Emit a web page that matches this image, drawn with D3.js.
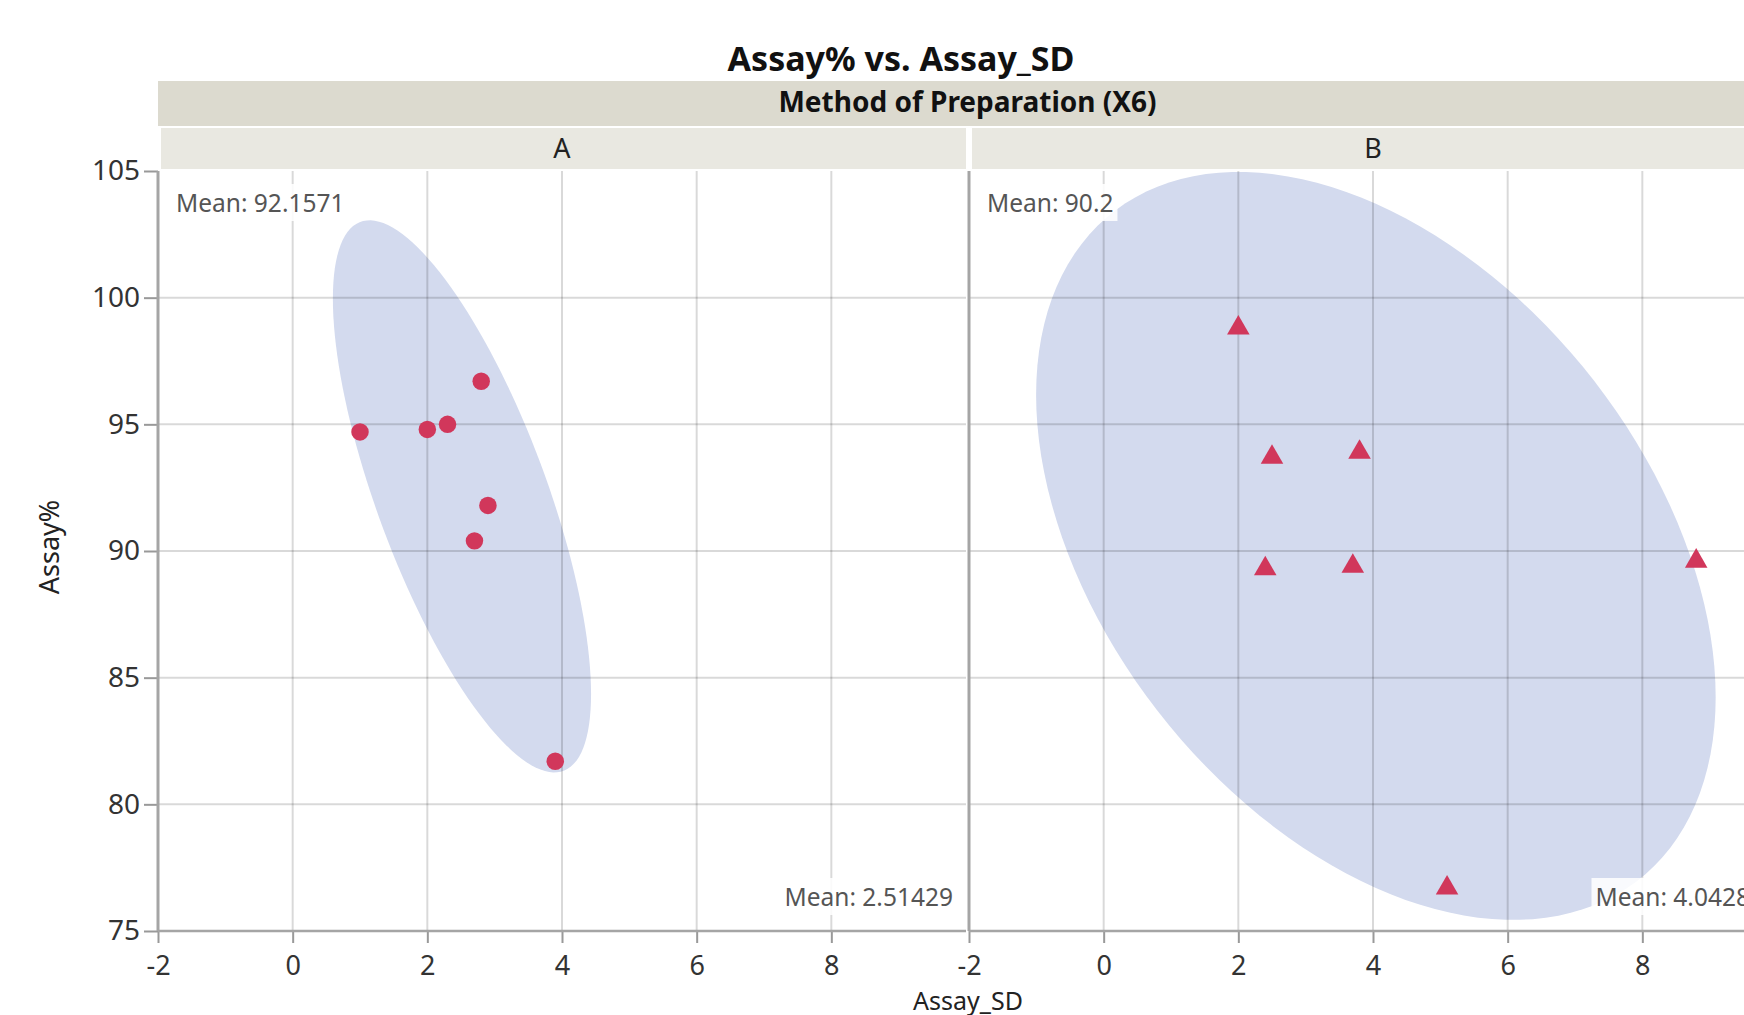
<!DOCTYPE html>
<html>
<head>
<meta charset="utf-8">
<script src="https://cdn.jsdelivr.net/npm/d3@7"></script>
<style>
  body{margin:0;background:#fff;overflow:hidden}
  text{font-family:"Noto Sans","Open Sans",sans-serif}
</style>
</head>
<body>
<div id="chart"></div>
<script>
// data (Assay% vs Assay_SD, grouped by method)
const groups = ["A", "B"]
const sdA = [1.0, 2.0, 2.3, 2.8, 2.9, 2.7, 3.9]
const assayA = [94.7, 94.8, 95.0, 96.7, 91.8, 90.4, 81.7]
const sdB = [2.0, 2.5, 3.8, 2.4, 3.7, 8.8, 5.1]
const assayB = [98.8, 93.7, 93.9, 89.3, 89.4, 89.6, 76.7]
const xTicks = [-2, 0, 2, 4, 6, 8]
const yTicks = [75, 80, 85, 90, 95, 100, 105]
const xDomain = [-2, 10]
const yDomain = [75, 105]
const ellipseLevel = 0.90

const W = 1744, H = 1015
const panelW = 808
const panelLeft = [158, 969]
const plotTop = 171, plotBottom = 931
const pink = "#d1375b"

const svg = d3.select("#chart").append("svg")
  .attr("width", W).attr("height", H)

const y = d3.scaleLinear().domain(yDomain).range([plotBottom, plotTop])
const fmt = d3.format(".6~g")
const plain = d => String(d)  // JMP shows a hyphen, not the unicode minus

// title + group header
svg.append("text").attr("x", 901).attr("y", 71)
  .attr("text-anchor", "middle").attr("font-size", 34).attr("font-weight", "bold")
  .attr("fill", "#111").text("Assay% vs. Assay_SD")

svg.append("rect").attr("x", 158).attr("y", 81)
  .attr("width", panelLeft[1] + panelW - 158).attr("height", 45).attr("fill", "#dcdacf")
svg.append("text").attr("x", (158 + panelLeft[1] + panelW) / 2).attr("y", 112)
  .attr("text-anchor", "middle").attr("font-size", 28).attr("font-weight", "bold")
  .attr("fill", "#111").text("Method of Preparation (X6)")

// y axis labels (shared on the left)
svg.append("g").attr("transform", `translate(${panelLeft[0]},0)`)
  .call(d3.axisLeft(y).tickValues(yTicks).tickFormat(plain).tickSize(14).tickPadding(4))
  .call(g => {
    g.select(".domain").remove()
    g.selectAll(".tick line").attr("stroke", "#999").attr("stroke-width", 2)
    g.selectAll(".tick text").attr("font-size", 28).attr("fill", "#333")
      .attr("font-family", "Noto Sans")
  })

svg.append("text")
  .attr("transform", "translate(59,547) rotate(-90)")
  .attr("text-anchor", "middle").attr("font-size", 27).attr("fill", "#222")
  .text("Assay%")

svg.append("text").attr("x", 968).attr("y", 1010)
  .attr("text-anchor", "middle").attr("font-size", 25).attr("fill", "#222")
  .text("Assay_SD")

// density ellipse from mean + covariance (bivariate normal)
function ellipsePts(xs, ys, p) {
  const n = xs.length
  const mx = d3.mean(xs), my = d3.mean(ys)
  let sxx = 0, syy = 0, sxy = 0
  for (let i = 0; i < n; i++) {
    sxx += (xs[i] - mx) ** 2
    syy += (ys[i] - my) ** 2
    sxy += (xs[i] - mx) * (ys[i] - my)
  }
  sxx /= n - 1; syy /= n - 1; sxy /= n - 1
  const k = Math.sqrt(-2 * Math.log(1 - p))
  const a = Math.sqrt(sxx), b = sxy / a, d = Math.sqrt(syy - b * b)
  return d3.range(0, 144).map(i => {
    const t = i / 144 * 2 * Math.PI
    return [mx + k * a * Math.cos(t), my + k * (b * Math.cos(t) + d * Math.sin(t))]
  })
}

const panels = [
  {name: groups[0], xs: sdA, ys: assayA, shape: d3.symbolCircle},
  {name: groups[1], xs: sdB, ys: assayB, shape: d3.symbolTriangle}
]

panels.forEach((p, i) => {
  const left = panelLeft[i]
  const x = d3.scaleLinear().domain(xDomain).range([left, left + panelW])
  const g = svg.append("g")

  // sub header A / B
  g.append("rect").attr("x", left + 3).attr("y", 128)
    .attr("width", panelW - 3).attr("height", 41).attr("fill", "#e9e8e1")
  g.append("text").attr("x", left + panelW / 2).attr("y", 158)
    .attr("text-anchor", "middle").attr("font-size", 27).attr("fill", "#222")
    .text(p.name)

  const clip = "clip" + i
  svg.append("clipPath").attr("id", clip).append("rect")
    .attr("x", left).attr("y", plotTop).attr("width", panelW).attr("height", plotBottom - plotTop)
  const plot = g.append("g").attr("clip-path", `url(#${clip})`)

  const line = d3.line().x(d => x(d[0])).y(d => y(d[1])).curve(d3.curveLinearClosed)
  plot.append("path").datum(ellipsePts(p.xs, p.ys, ellipseLevel))
    .attr("d", line).attr("fill", "#d3daee")

  // grid on top of the ellipse, semi transparent
  plot.selectAll(".vg").data(xTicks.filter(v => v > xDomain[0])).join("line")
    .attr("x1", d => x(d)).attr("x2", d => x(d)).attr("y1", plotTop).attr("y2", plotBottom)
    .attr("stroke", "#000").attr("stroke-opacity", 0.15).attr("stroke-width", 2)
  plot.selectAll(".hg").data(yTicks.filter(v => v > yDomain[0] && v < yDomain[1])).join("line")
    .attr("x1", left).attr("x2", left + panelW).attr("y1", d => y(d)).attr("y2", d => y(d))
    .attr("stroke", "#000").attr("stroke-opacity", 0.15).attr("stroke-width", 2)

  // x axis
  g.append("g").attr("transform", `translate(0,${plotBottom})`)
    .call(d3.axisBottom(x).tickValues(xTicks).tickFormat(plain).tickSize(12).tickPadding(13))
    .call(ax => {
      ax.select(".domain").remove()
      ax.selectAll(".tick line").attr("stroke", "#999").attr("stroke-width", 2)
      ax.selectAll(".tick text").attr("font-size", 27).attr("fill", "#333")
        .attr("font-family", "Noto Sans")
    })
  g.append("line").attr("x1", left).attr("x2", left + panelW)
    .attr("y1", plotBottom).attr("y2", plotBottom).attr("stroke", "#a5a5a5").attr("stroke-width", 2.5)
  g.append("line").attr("x1", left).attr("x2", left)
    .attr("y1", plotTop).attr("y2", plotBottom).attr("stroke", "#a5a5a5").attr("stroke-width", 3)

  // markers
  const sym = d3.symbol().type(p.shape).size(p.shape === d3.symbolCircle ? 240 : 220)
  plot.selectAll(".pt").data(d3.zip(p.xs, p.ys)).join("path")
    .attr("transform", d => `translate(${x(d[0])},${y(d[1])})`)
    .attr("d", sym).attr("fill", pink)

  // mean labels with white backing
  const meanLabel = (txt, tx, ty, anchor) => {
    const t = g.append("text").attr("x", tx).attr("y", ty).attr("text-anchor", anchor)
      .attr("font-size", 24.5).attr("fill", "#555").text(txt)
    const bb = t.node().getBBox()
    g.insert("rect", () => t.node())
      .attr("x", bb.x - 4).attr("y", bb.y - 2).attr("width", bb.width + 8).attr("height", bb.height + 4)
      .attr("fill", "#fff").attr("fill-opacity", 0.85)
  }
  meanLabel("Mean: " + fmt(d3.mean(p.ys)), left + 18, 212, "start")
  meanLabel("Mean: " + fmt(d3.mean(p.xs)), left + panelW - 13, 906, "end")
})
</script>
</body>
</html>
